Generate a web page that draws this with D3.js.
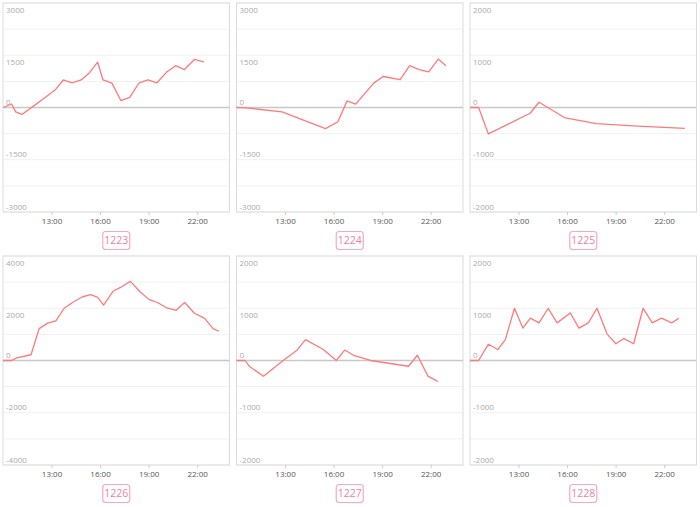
<!DOCTYPE html>
<html><head><meta charset="utf-8">
<script src="https://cdn.jsdelivr.net/npm/d3@7"></script>
<style>body{margin:0;background:#fff;font-family:"Open Sans","Noto Sans",sans-serif;}</style>
</head><body>
<svg id="c" width="700" height="507"></svg>
<script>
const categories = ["1223","1224","1225","1226","1227","1228"];
const yMax = [3000,3000,2000,4000,2000,2000];
const xTicks = ["13:00","16:00","19:00","22:00"];

const t1223 = ["10:00","10:32","10:47","11:10","11:53","12:30","13:13","13:44","14:16","14:50","15:21","15:51","16:11","16:44","17:17","17:50","18:25","18:58","19:31","20:06","20:40","21:13","21:50","22:25"];
const v1223 = [0,100,-125,-200,40,250,500,790,710,790,1000,1300,790,700,200,290,710,790,710,1010,1200,1090,1380,1310];

const t1224 = ["10:00","10:35","12:49","15:30","16:16","16:50","17:22","18:29","19:04","20:07","20:42","21:17","21:53","22:28","22:57"];
const v1224 = [0,-10,-125,-605,-410,190,95,700,890,800,1200,1085,1020,1390,1200];

const t1225 = ["10:00","10:32","11:08","13:43","14:16","15:53","17:49","20:05","23:17"];
const v1225 = [0,0,-505,-110,100,-200,-310,-350,-400];

const t1226 = ["10:00","10:32","10:51","11:44","12:14","12:46","13:16","13:47","14:22","14:55","15:26","15:51","16:13","16:48","17:21","17:53","18:27","19:02","19:33","20:08","20:42","21:14","21:50","22:28","22:59","23:21"];
const v1226 = [0,0,100,220,1220,1430,1520,2000,2250,2440,2520,2420,2120,2650,2830,3030,2640,2330,2220,2010,1920,2220,1810,1610,1220,1120];

const t1227 = ["10:00","10:32","10:47","11:40","12:53","13:43","14:16","15:22","16:10","16:41","17:14","18:23","20:38","21:11","21:50","22:26"];
const v1227 = [0,0,-110,-300,0,190,400,210,0,200,100,-5,-110,100,-300,-400];

const t1228 = ["10:00","10:32","11:08","11:43","12:11","12:45","13:16","13:44","14:16","14:50","15:23","16:12","16:44","17:19","17:51","18:28","19:01","19:31","20:07","20:42","21:16","21:50","22:28","22:55"];
const v1228 = [0,0,310,210,400,1000,620,810,720,1000,720,910,620,720,1000,510,320,420,320,1000,720,810,720,810];

const times = [t1223,t1224,t1225,t1226,t1227,t1228];
const values = [v1223,v1224,v1225,v1226,v1227,v1228];

const toH = s => { const [h,m] = s.split(":").map(Number); return h + m/60; };

const svg = d3.select("#c");
const W = 226.5, H = 209;
const lefts = [3, 236.5, 470];
const tops = [3, 256];

categories.forEach((name, i) => {
  const col = i % 3, row = Math.floor(i / 3);
  const g = svg.append("g").attr("transform", `translate(${lefts[col]},${tops[row]})`);
  const x = d3.scaleLinear().domain([10, 24]).range([0, W]);
  const y = d3.scaleLinear().domain([-yMax[i], yMax[i]]).range([H, 0]);

  // gridlines (8 intervals)
  const grid = d3.range(-4, 5).map(k => k * yMax[i] / 4);
  g.selectAll("line.grid").data(grid).join("line")
    .attr("x1", 0).attr("x2", W)
    .attr("y1", d => y(d)).attr("y2", d => y(d))
    .attr("stroke", "#f1f1f1").attr("stroke-width", 1);

  // border
  g.append("rect").attr("x", 0).attr("y", 0).attr("width", W).attr("height", H)
    .attr("fill", "none").attr("stroke", "#dcdcdc").attr("stroke-width", 1);

  // zero line
  g.append("line").attr("x1", 0).attr("x2", W).attr("y1", y(0)).attr("y2", y(0))
    .attr("stroke", "#c8c8c8").attr("stroke-width", 1.6);

  // y labels
  const labs = [yMax[i], yMax[i]/2, 0, -yMax[i]/2, -yMax[i]];
  g.selectAll("text.yl").data(labs).join("text")
    .attr("x", 3)
    .attr("y", d => d > 0 ? y(d) + 9.5 : y(d) - 2.5)
    .attr("font-size", 8).attr("fill", "#aaa")
    .text(d => d);

  // x axis
  const xa = g.append("g").attr("transform", `translate(0,${H})`)
    .call(d3.axisBottom(x).tickValues(xTicks.map(toH)).tickFormat((d, k) => xTicks[k]).tickSize(3).tickPadding(3));
  xa.select(".domain").remove();
  xa.selectAll(".tick line").attr("stroke", "#ccc");
  xa.selectAll(".tick text").attr("font-size", 8).attr("fill", "#555")
    .attr("font-family", "'Open Sans','Noto Sans',sans-serif");

  // line
  const pts = times[i].map((t, k) => [toH(t), values[i][k]]);
  g.append("path").datum(pts)
    .attr("d", d3.line().x(d => x(d[0])).y(d => y(d[1])))
    .attr("fill", "none").attr("stroke", "#ff7a7a").attr("stroke-width", 1.3)
    .attr("stroke-linejoin", "round");

  // label box
  const bw = 27, bh = 18, by = H + 19.5;
  g.append("rect").attr("x", W/2 - bw/2).attr("y", by).attr("width", bw).attr("height", bh)
    .attr("rx", 3).attr("fill", "#fff").attr("stroke", "#f8a9c0").attr("stroke-width", 1.2);
  g.append("text").attr("x", W/2).attr("y", by + bh/2 + 3.8)
    .attr("text-anchor", "middle").attr("font-size", 10.5).attr("fill", "#ee7fa0")
    .text(name);
});
</script>
</body></html>
